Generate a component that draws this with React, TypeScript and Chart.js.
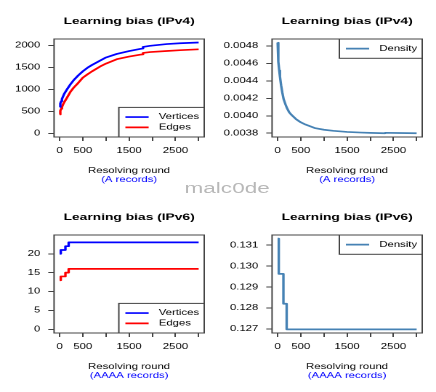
import { useEffect, useRef } from 'react';
import { Chart, registerables } from 'chart.js';

Chart.register(...registerables);

// ---------- data ----------
const xTicks = [0, 500, 1000, 1500, 2000, 2500, 3000];
const xTickLabels = [0, 500, 1500, 2500];

const v4Rounds = [1, 10, 20, 35, 50, 75, 100, 150, 230, 300, 400, 500, 600, 700, 875, 1000, 1234, 1500, 1735, 1790, 1800, 1950, 2312, 2600, 3000];
const v4Vertices = [600, 645, 680, 730, 780, 840, 900, 985, 1110, 1205, 1315, 1410, 1490, 1555, 1655, 1725, 1805, 1870, 1918, 1928, 1965, 1990, 2030, 2048, 2065];
const v4Edges = [430, 475, 515, 560, 600, 660, 710, 795, 940, 1035, 1145, 1265, 1340, 1410, 1520, 1585, 1685, 1745, 1788, 1795, 1828, 1848, 1872, 1890, 1910];
const v4YTicks = [0, 500, 1000, 1500, 2000];

const v4DensityRounds = [1, 10, 20, 35, 50, 75, 100, 130, 170, 200, 250, 300, 400, 500, 600, 800, 1000, 1200, 1500, 1800, 2000, 2300, 2320, 2600, 3000];
const v4Density = [0.004838, 0.00472, 0.00462, 0.00452, 0.00445, 0.00435, 0.00427, 0.00419, 0.00413, 0.00409, 0.00404, 0.00401, 0.00396, 0.003925, 0.0039, 0.00386, 0.00384, 0.003828, 0.003815, 0.003808, 0.003804, 0.0038, 0.003805, 0.003803, 0.0038];
const v4DensityTicks = [0.0038, 0.004, 0.0042, 0.0044, 0.0046, 0.0048];

const v6Rounds = [1, 25, 125, 195, 3000];
const v6Vertices = [20, 21, 22, 23, 23];
const v6Edges = [13, 14, 15, 16, 16];
const v6YTicks = [0, 5, 10, 15, 20];
const v6Density = [0.131313, 0.12963, 0.128205, 0.126984, 0.126984];
const v6DensityTicks = [0.127, 0.128, 0.129, 0.13, 0.131];

// ---------- layout (virtual, stretched horizontally) ----------
const VW = 300;
const SX = 436 / VW;
const PW = 150;
const PH = 196;
const FONT = '"Liberation Sans", Arial, Helvetica, sans-serif';
const FS = 7.8;

type Series = { label: string; color: string; x: number[]; y: number[]; stepped?: boolean };
type Panel = {
  title: string;
  sub: string;
  series: Series[];
  yMin: number;
  yMax: number;
  yTicks: number[];
  yDigits: number;
  legend: 'bottomright' | 'topright';
};

const rDecor = {
  id: 'rDecor',
  afterDatasetsDraw(chart: any, _args: any, opts: any) {
    const ctx = chart.ctx as CanvasRenderingContext2D;
    const a = chart.chartArea;
    ctx.save();
    ctx.strokeStyle = '#444';
    ctx.lineWidth = 1;
    ctx.strokeRect(a.left, a.top, a.right - a.left, a.bottom - a.top);
    const cx = (a.left + a.right) / 2;
    ctx.textAlign = 'center';
    ctx.textBaseline = 'alphabetic';
    ctx.fillStyle = '#000';
    ctx.font = `bold 9.5px ${FONT}`;
    ctx.fillText(opts.title, cx, 23.8);
    ctx.font = `${FS}px ${FONT}`;
    ctx.fillText('Resolving round', cx, 172.9);
    ctx.fillStyle = '#0000ff';
    ctx.fillText(opts.sub, cx, 181.8);

    // legend
    const items = chart.data.datasets as any[];
    ctx.font = `${FS}px ${FONT}`;
    const tw = Math.max(...items.map((d) => ctx.measureText(d.label).width));
    const p1 = 4.5, lineLen = 16, gap = 7, p2 = 3.5, rowH = 10.3, vpad = 4.5;
    const w = p1 + lineLen + gap + tw + p2;
    const h = items.length * rowH + vpad * 2;
    const x0 = a.right - w;
    const y0 = opts.legend === 'topright' ? a.top : a.bottom - h;
    ctx.fillStyle = '#fff';
    ctx.fillRect(x0, y0, w, h);
    ctx.strokeStyle = '#444';
    ctx.lineWidth = 1;
    ctx.strokeRect(x0, y0, w, h);
    items.forEach((d, i) => {
      const y = y0 + vpad + rowH * (i + 0.5);
      ctx.strokeStyle = d.borderColor;
      ctx.lineWidth = 1.7;
      ctx.beginPath();
      ctx.moveTo(x0 + p1, y);
      ctx.lineTo(x0 + p1 + lineLen, y);
      ctx.stroke();
      ctx.fillStyle = '#000';
      ctx.textAlign = 'left';
      ctx.textBaseline = 'middle';
      ctx.fillText(d.label, x0 + p1 + lineLen + gap, y);
    });
    ctx.restore();
  },
};

function makeConfig(p: Panel): any {
  const tickFont = { family: FONT, size: FS };
  const grid = { drawOnChartArea: false, drawTicks: true, tickLength: 4, color: '#444', lineWidth: 1 };
  return {
    type: 'line',
    data: {
      datasets: p.series.map((s) => ({
        label: s.label,
        data: s.x.map((x, i) => ({ x, y: s.y[i] })),
        borderColor: s.color,
        backgroundColor: s.color,
        borderWidth: 1.7,
        pointRadius: 0,
        tension: 0,
        fill: false,
        stepped: s.stepped ? 'before' : false,
        borderJoinStyle: 'round',
      })),
    },
    options: {
      animation: false,
      responsive: false,
      devicePixelRatio: 2,
      events: [],
      layout: { padding: { left: 0, right: PW - 140.5, top: 39, bottom: 0 } },
      plugins: {
        legend: { display: false },
        title: { display: false },
        tooltip: { enabled: false },
        rDecor: { title: p.title, sub: p.sub, legend: p.legend },
      },
      scales: {
        x: {
          type: 'linear',
          min: -120,
          max: 3120,
          bounds: 'data',
          afterBuildTicks: (s: any) => {
            s.ticks = xTicks.map((v) => ({ value: v }));
          },
          afterFit: (s: any) => {
            s.height = PH - 137;
          },
          grid,
          border: { display: false },
          ticks: {
            autoSkip: false,
            maxRotation: 0,
            minRotation: 0,
            padding: 5,
            color: '#000',
            font: tickFont,
            callback: (v: number) => (xTickLabels.includes(v) ? String(v) : ''),
          },
        },
        y: {
          type: 'linear',
          min: p.yMin,
          max: p.yMax,
          bounds: 'data',
          afterBuildTicks: (s: any) => {
            s.ticks = p.yTicks.map((v) => ({ value: v }));
          },
          afterFit: (s: any) => {
            s.width = 37.2;
          },
          grid,
          border: { display: false },
          ticks: {
            autoSkip: false,
            padding: 5.5,
            color: '#000',
            font: tickFont,
            callback: (v: number) => v.toFixed(p.yDigits),
          },
        },
      },
    },
    plugins: [rDecor],
  };
}

const panels: Panel[] = [
  {
    title: 'Learning bias (IPv4)',
    sub: '(A records)',
    series: [
      { label: 'Vertices', color: '#0000ff', x: v4Rounds, y: v4Vertices },
      { label: 'Edges', color: '#ff0000', x: v4Rounds, y: v4Edges },
    ],
    yMin: -82.5,
    yMax: 2144.5,
    yTicks: v4YTicks,
    yDigits: 0,
    legend: 'bottomright',
  },
  {
    title: 'Learning bias (IPv4)',
    sub: '(A records)',
    series: [{ label: 'Density', color: '#4682b4', x: v4DensityRounds, y: v4Density }],
    yMin: 0.003757,
    yMax: 0.00488,
    yTicks: v4DensityTicks,
    yDigits: 4,
    legend: 'topright',
  },
  {
    title: 'Learning bias (IPv6)',
    sub: '(AAAA records)',
    series: [
      { label: 'Vertices', color: '#0000ff', x: v6Rounds, y: v6Vertices, stepped: true },
      { label: 'Edges', color: '#ff0000', x: v6Rounds, y: v6Edges, stepped: true },
    ],
    yMin: -0.96,
    yMax: 24.96,
    yTicks: v6YTicks,
    yDigits: 0,
    legend: 'bottomright',
  },
  {
    title: 'Learning bias (IPv6)',
    sub: '(AAAA records)',
    series: [{ label: 'Density', color: '#4682b4', x: v6Rounds, y: v6Density, stepped: true }],
    yMin: 0.126811,
    yMax: 0.131486,
    yTicks: v6DensityTicks,
    yDigits: 3,
    legend: 'topright',
  },
];

function PanelChart({ panel, left, top }: { panel: Panel; left: number; top: number }) {
  const ref = useRef<HTMLCanvasElement | null>(null);
  useEffect(() => {
    if (!ref.current) return;
    const chart = new Chart(ref.current, makeConfig(panel));
    return () => chart.destroy();
  }, [panel]);
  return (
    <canvas
      ref={ref}
      width={PW}
      height={PH}
      style={{ position: 'absolute', left, top, width: PW, height: PH }}
    />
  );
}

export default function App() {
  return (
    <div
      style={{
        position: 'absolute',
        left: 0,
        top: 0,
        width: VW,
        height: 392,
        background: '#fff',
        transform: `scaleX(${SX})`,
        transformOrigin: '0 0',
        overflow: 'hidden',
      }}
    >
      <PanelChart panel={panels[0]} left={0} top={0} />
      <PanelChart panel={panels[1]} left={PW} top={0} />
      <PanelChart panel={panels[2]} left={0} top={PH} />
      <PanelChart panel={panels[3]} left={PW} top={PH} />
      <div
        style={{
          position: 'absolute',
          left: 106.3,
          top: 179.6,
          width: 100,
          textAlign: 'center',
          fontFamily: FONT,
          fontSize: 15.5,
          lineHeight: '16px',
          color: '#b8b8b8',
          whiteSpace: 'nowrap',
        }}
      >
        malc0de
      </div>
    </div>
  );
}
